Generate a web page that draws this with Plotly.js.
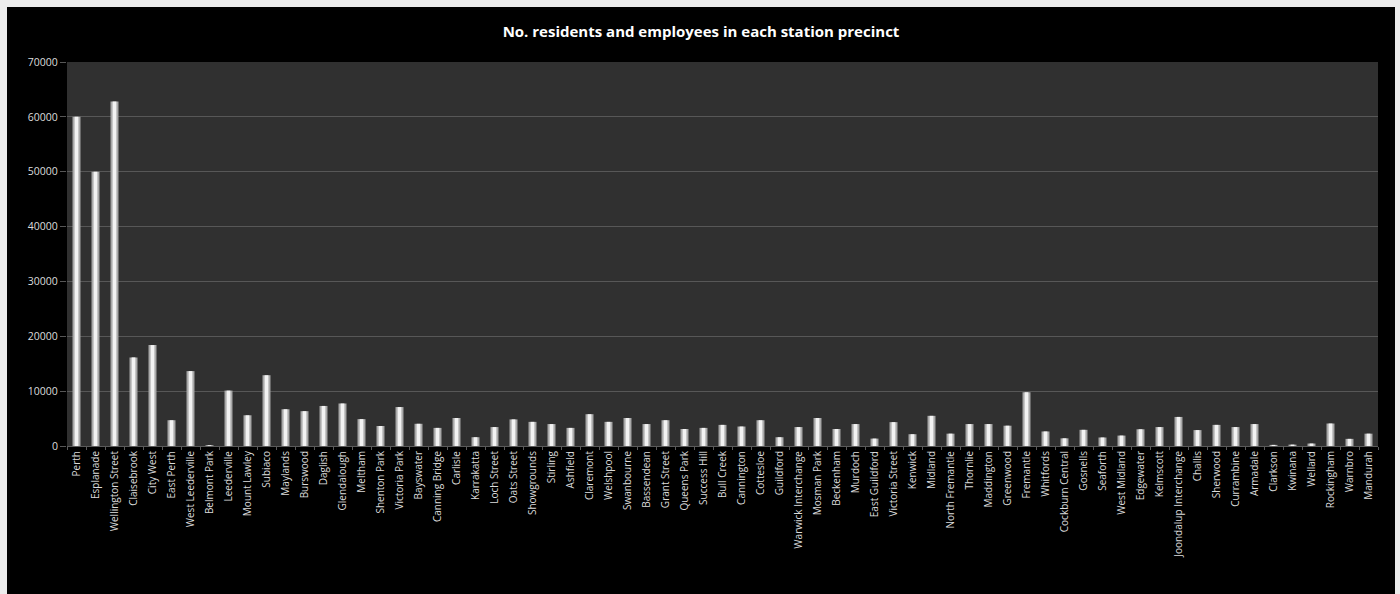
<!DOCTYPE html>
<html>
<head>
<meta charset="utf-8">
<script src="https://cdn.plot.ly/plotly-3.0.1.min.js"></script>
<style>
  html, body { margin: 0; padding: 0; background: #ececec; width: 1400px; height: 594px; overflow: hidden; }
  #chart { position: absolute; left: 7px; top: 7px; width: 1388px; height: 587px; }
</style>
</head>
<body>
<div id="chart"></div>
<script>
const stations = [
  "Perth", "Esplanade", "Wellington Street", "Claisebrook", "City West", "East Perth",
  "West Leederville", "Belmont Park", "Leederville", "Mount Lawley", "Subiaco", "Maylands",
  "Burswood", "Daglish", "Glendalough", "Meltham", "Shenton Park", "Victoria Park",
  "Bayswater", "Canning Bridge", "Carlisle", "Karrakatta", "Loch Street", "Oats Street",
  "Showgrounds", "Stirling", "Ashfield", "Claremont", "Welshpool", "Swanbourne",
  "Bassendean", "Grant Street", "Queens Park", "Success Hill", "Bull Creek", "Cannington",
  "Cottesloe", "Guildford", "Warwick Interchange", "Mosman Park", "Beckenham", "Murdoch",
  "East Guildford", "Victoria Street", "Kenwick", "Midland", "North Fremantle", "Thornlie",
  "Maddington", "Greenwood", "Fremantle", "Whitfords", "Cockburn Central", "Gosnells",
  "Seaforth", "West Midland", "Edgewater", "Kelmscott", "Joondalup Interchange", "Challis",
  "Sherwood", "Currambine", "Armadale", "Clarkson", "Kwinana", "Wellard",
  "Rockingham", "Warnbro", "Mandurah"
];

const residentsAndEmployees = [
  60000, 50000, 62800, 16150, 18400, 4700,
  13650, 150, 10100, 5600, 12900, 6700,
  6350, 7300, 7750, 4900, 3650, 7100,
  4050, 3300, 5100, 1600, 3450, 4850,
  4400, 4000, 3300, 5800, 4400, 5100,
  4000, 4700, 3100, 3300, 3850, 3550,
  4700, 1600, 3450, 5100, 3100, 4000,
  1350, 4350, 2150, 5500, 2250, 4000,
  4000, 3700, 9800, 2650, 1400, 2950,
  1550, 1900, 3050, 3450, 5300, 2900,
  3850, 3450, 4000, 200, 250, 450,
  4100, 1300, 2250
];

const yTickValues = [0, 10000, 20000, 30000, 40000, 50000, 60000, 70000];

const chartTitle = "No. residents and employees in each station precinct";

const fontFamily = "'Open Sans', Lato, 'DejaVu Sans', sans-serif";

const traces = [
  {
    type: "bar",
    x: stations,
    y: residentsAndEmployees,
    width: 0.42,
    marker: { color: "#a9a9a9", line: { width: 0 } },
    hoverinfo: "x+y",
    showlegend: false
  },
  {
    type: "bar",
    x: stations,
    y: residentsAndEmployees,
    width: 0.2,
    marker: { color: "#f2f2f2", line: { width: 0 } },
    hoverinfo: "skip",
    showlegend: false
  }
];

const layout = {
  width: 1388,
  height: 587,
  paper_bgcolor: "#000000",
  plot_bgcolor: "#303030",
  barmode: "overlay",
  margin: { l: 60, r: 17, t: 55, b: 148, pad: 0 },
  title: {
    text: "<b>" + chartTitle + "</b>",
    font: { family: fontFamily, size: 15, color: "#ffffff" },
    x: 0.5,
    xanchor: "center",
    y: 0.958,
    yanchor: "middle"
  },
  xaxis: {
    type: "category",
    tickangle: -90,
    tickfont: { family: fontFamily, size: 10, color: "#dcdcdc" },
    showgrid: false,
    showline: true,
    linecolor: "#5a5a5a",
    linewidth: 1,
    ticks: "outside",
    tickson: "boundaries",
    ticklen: 3,
    tickcolor: "#5a5a5a",
    automargin: false,
    fixedrange: true
  },
  yaxis: {
    range: [0, 70000],
    tickvals: yTickValues,
    ticktext: yTickValues.map(String),
    tickfont: { family: fontFamily, size: 10.5, color: "#dcdcdc" },
    showgrid: true,
    gridcolor: "#575757",
    gridwidth: 1,
    zeroline: false,
    showline: false,
    ticks: "outside",
    ticklen: 6,
    tickcolor: "#575757",
    automargin: false,
    fixedrange: true
  },
  bargap: 0.5
};

Plotly.newPlot("chart", traces, layout, { displayModeBar: false, staticPlot: true });
</script>
</body>
</html>
